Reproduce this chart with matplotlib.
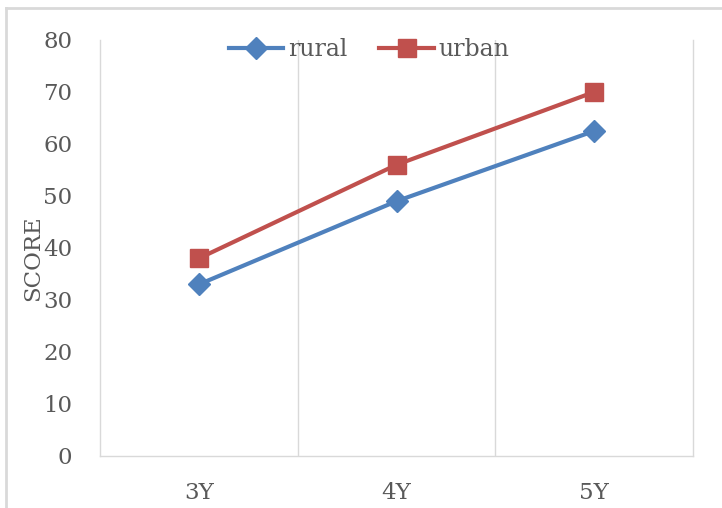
import matplotlib
matplotlib.use("Agg")
import matplotlib.pyplot as plt
from matplotlib.lines import Line2D

categories = ["3Y", "4Y", "5Y"]
rural = [33, 49, 62.5]
urban = [38, 56, 70]

plt.rcParams["font.family"] = ["DejaVu Serif"]
TXT = "#595959"
GRID = "#d9d9d9"

fig = plt.figure(figsize=(7.22, 5.08), dpi=100)
ax = fig.add_axes([100 / 722, 1 - 456 / 508, 593 / 722, 416 / 508])

x = range(len(categories))
ax.plot(x, rural, color="#4F81BD", lw=3, marker="D", ms=11, label="rural")
ax.plot(x, urban, color="#C0504D", lw=3, marker="s", ms=13, label="urban")

ax.set_xlim(-0.5, 2.5)
ax.set_ylim(0, 80)
ax.set_yticks(range(0, 81, 10))
ax.set_xticks(list(x))
ax.set_xticklabels(categories)
for b in [0.5, 1.5]:
    ax.axvline(b, color=GRID, lw=1, zorder=0)
ax.spines["top"].set_visible(False)
for s in ["left", "right", "bottom"]:
    ax.spines[s].set_color(GRID)
    ax.spines[s].set_linewidth(1)
ax.tick_params(length=0, labelsize=16.5, colors=TXT)
ax.tick_params(axis="y", pad=20)
ax.tick_params(axis="x", pad=19)
ax.set_ylabel("SCORE", fontsize=16.5, color=TXT)
ax.yaxis.set_label_coords(-0.095, 0.476)

ax.legend(loc="center", bbox_to_anchor=(0.454, 0.976), ncol=2, frameon=False,
          fontsize=17, labelcolor=TXT, handlelength=2.3, handletextpad=0.2,
          columnspacing=1.35)

fig.add_artist(Line2D([6 / 722, 6 / 722], [0, 1 - 8 / 508], color=GRID, lw=2))
fig.add_artist(Line2D([6 / 722, 1], [1 - 8 / 508, 1 - 8 / 508], color=GRID, lw=2))

fig.savefig("out.png", dpi=100)
